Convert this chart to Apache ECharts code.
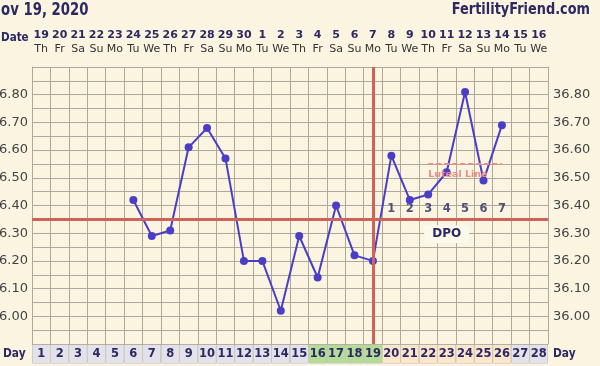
<!DOCTYPE html>
<html>
<head>
<meta charset="utf-8">
<script src="https://cdn.jsdelivr.net/npm/echarts@6/dist/echarts.min.js"></script>
<style>
html,body{margin:0;padding:0;background:#faf4e0;}
#chart{width:600px;height:366px;}
</style>
</head>
<body>
<div id="chart"></div>
<script>
// ---- data ----
const cycleDays = ['1','2','3','4','5','6','7','8','9','10','11','12','13','14','15','16','17','18','19','20','21','22','23','24','25','26','27','28'];
const dates = ['19','20','21','22','23','24','25','26','27','28','29','30','1','2','3','4','5','6','7','8','9','10','11','12','13','14','15','16'];
const weekdays = ['Th','Fr','Sa','Su','Mo','Tu','We','Th','Fr','Sa','Su','Mo','Tu','We','Th','Fr','Sa','Su','Mo','Tu','We','Th','Fr','Sa','Su','Mo','Tu','We'];
const tempDays = ['6','7','8','9','10','11','12','13','14','15','16','17','18','19','20','21','22','23','24','25','26'];
const temps = [36.42,36.29,36.31,36.61,36.68,36.57,36.20,36.20,36.02,36.29,36.14,36.40,36.22,36.20,36.58,36.42,36.44,36.52,36.81,36.49,36.69];
const coverline = 36.35;
const ovulationDay = '19';
const dpoDays = ['20','21','22','23','24','25','26'];
const dpoLabels = ['1','2','3','4','5','6','7'];
const dpoTitleDay = '23';
const lutealStartDay = '22';
const lutealEndDay = '26';
const lutealLevel = 36.55;
const fertileDays = ['16','17','18','19'];
const lutealDays = ['20','21','22','23','24','25','26'];
const yMin = 35.90, yMax = 36.90, yStep = 0.05;
const titleText = 'Nov 19, 2020';
const siteText = 'FertilityFriend.com';

// ---- chart ----
const navy = '#2b2862';
const gridColor = '#aca89c';
const font = 'DejaVu Sans';
const chart = echarts.init(document.getElementById('chart'));

function yLabel(v){
  const c = Math.round(v*100);
  return (c % 10 === 0 && c >= 3600 && c <= 3680) ? (c/100).toFixed(2) : '';
}
const cellBase = {width:17.4, height:18, lineHeight:18, align:'center', fontWeight:'bold', fontSize:11.5, color:navy, fontFamily:font, borderColor:'#bdb9b0', borderWidth:0.5};

const option = {
  backgroundColor:'#faf4e0',
  animation:false,
  grid:{left:32, right:52, top:67, bottom:22, show:false, containLabel:false, outerBoundsMode:'none'},
  xAxis:[
    {type:'category', data:cycleDays, position:'bottom', boundaryGap:true,
     axisLine:{show:false}, axisTick:{show:false},
     splitLine:{show:true, lineStyle:{color:gridColor, width:1}},
     axisLabel:{interval:0, margin:1,
       formatter:(v)=> fertileDays.includes(v) ? `{g|${v}}` : (lutealDays.includes(v) ? `{p|${v}}` : `{a|${v}}`),
       rich:{
         a:Object.assign({}, cellBase, {backgroundColor:'#e3e2ea'}),
         g:Object.assign({}, cellBase, {backgroundColor:'#b4db97'}),
         p:Object.assign({}, cellBase, {backgroundColor:'#fbe5cb'})
       }}
    },
    {type:'category', data:cycleDays, position:'top', boundaryGap:true,
     axisLine:{show:false}, axisTick:{show:false}, splitLine:{show:false},
     axisLabel:{interval:0, margin:11,
       formatter:(v,i)=> `{d|${dates[i]}}\n{w|${weekdays[i]}}`,
       rich:{
         d:{fontFamily:font, fontWeight:'bold', fontSize:11, color:navy, lineHeight:14},
         w:{fontFamily:font, fontSize:11, color:'#333333', lineHeight:14}
       }}
    }
  ],
  yAxis:[
    {type:'value', min:yMin, max:yMax, interval:yStep, position:'left',
     axisLine:{show:true, lineStyle:{color:gridColor}}, axisTick:{show:false},
     splitLine:{show:true, lineStyle:{color:gridColor, width:1}},
     axisLabel:{formatter:yLabel, margin:4, fontFamily:font, fontSize:13, color:'#444444'}},
    {type:'value', min:yMin, max:yMax, interval:yStep, position:'right',
     axisLine:{show:true, lineStyle:{color:gridColor}}, axisTick:{show:false},
     splitLine:{show:false},
     axisLabel:{formatter:yLabel, margin:5, fontFamily:font, fontSize:13, color:'#444444'}}
  ],
  series:[
    {type:'scatter', xAxisIndex:0, yAxisIndex:0, z:1,
     data:dpoDays.map(d=>[d, coverline]), symbolSize:0,
     label:{show:true, position:'top', distance:4,
       formatter:(p)=> dpoLabels[p.dataIndex],
       fontFamily:font, fontWeight:'bold', fontSize:11.5, color:navy},
     markLine:{silent:true, symbol:['none','none'], animation:false,
       data:[
         {yAxis:coverline, lineStyle:{color:'#cc635c', width:3, type:'solid'}, label:{show:false}},
         {xAxis:ovulationDay, lineStyle:{color:'#cc635c', width:3, type:'solid'}, label:{show:false}},
         [{coord:[lutealStartDay, lutealLevel], lineStyle:{color:'#ef8b86', width:2, type:[5,3]},
           label:{show:true, position:'insideStartBottom', formatter:'Luteal Line', distance:[0,6],
             fontFamily:font, fontSize:9.5, fontWeight:'bold', color:'#ef8b86'}},
          {coord:[lutealEndDay, lutealLevel]}]
       ]},
     markPoint:{symbol:'circle', symbolSize:0, silent:true,
       data:[{coord:[dpoTitleDay, coverline], value:'DPO'}],
       label:{show:true, position:'bottom', distance:6, formatter:'DPO',
         fontFamily:font, fontWeight:'bold', fontSize:12, color:navy,
         backgroundColor:'#fcf8ea', padding:[3,8,3,8]}}
    },
    {type:'line', xAxisIndex:0, yAxisIndex:0, z:3,
     data:tempDays.map((d,i)=>[d, temps[i]]),
     symbol:'circle', symbolSize:8,
     lineStyle:{color:'#4b3ec6', width:2},
     itemStyle:{color:'#4b3ec6'}}
  ],
  graphic:[
    {type:'text', x:-10, y:2, scaleX:0.78, style:{text:titleText, font:'bold 17px "DejaVu Sans"', fill:navy, textAlign:'left', textVerticalAlign:'top'}},
    {type:'text', x:590, y:3, scaleX:0.86, style:{text:siteText, font:'bold 15px "DejaVu Sans"', fill:navy, textAlign:'right', textVerticalAlign:'top'}},
    {type:'text', x:1, y:31, scaleX:0.8, style:{text:'Date', font:'bold 13px "DejaVu Sans"', fill:navy, textAlign:'left', textVerticalAlign:'top'}},
    {type:'text', x:3, y:347, scaleX:0.82, style:{text:'Day', font:'bold 13px "DejaVu Sans"', fill:navy, textAlign:'left', textVerticalAlign:'top'}},
    {type:'text', x:553, y:347, scaleX:0.82, style:{text:'Day', font:'bold 13px "DejaVu Sans"', fill:navy, textAlign:'left', textVerticalAlign:'top'}}
  ]
};
chart.setOption(option);
</script>
</body>
</html>
